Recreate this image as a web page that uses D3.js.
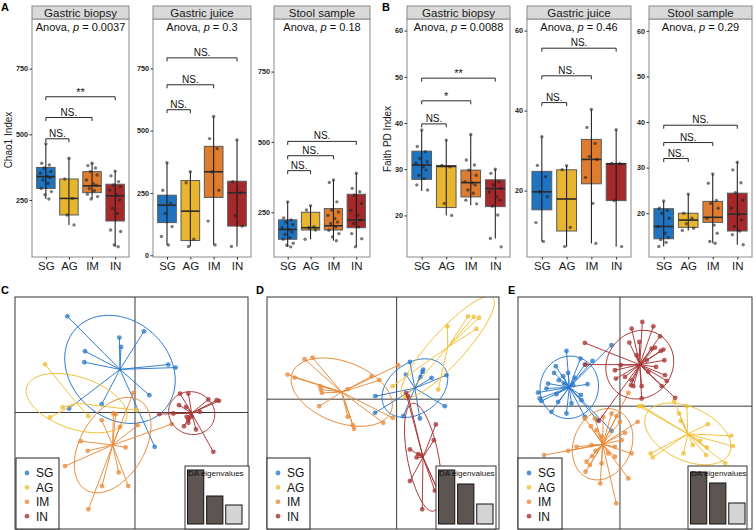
<!DOCTYPE html>
<html><head><meta charset="utf-8">
<script src="https://cdn.jsdelivr.net/npm/d3@7"></script>
<style>body{margin:0;background:#fff}svg{display:block;font-family:"Liberation Sans",Arial,Helvetica,sans-serif}</style>
</head><body><svg id="c" width="756" height="530"></svg>
<script>
// ---------------- data ----------------
const groups = ["SG","AG","IM","IN"];
const facetNames = ["Gastric biopsy","Gastric juice","Stool sample"];
const anovaPA = ["0.0037","0.3","0.18"];
const anovaPB = ["0.0088","0.46","0.29"];
const chaoTicks = [[250,500,750],[0,250,500,750],[250,500,750]];
const faithTicks = [[20,30,40,50,60],[20,40,60],[20,30,40,50,60]];
const chaoDomains = [[33,939],[-7,948],[91,937]];
const faithDomains = [[11,62.5],[3.4,62.9],[10.4,62.6]];

// box stats per group: [lower whisker, Q1, median, Q3, upper whisker]
const chaoBiopsyBox = [[254,294,339,374,464],[155,193,256,330,409],[254,278,304,358,391],[72,170,266,310,360]];
const chaoJuiceBox  = [[41,131,201,241,371],[35,59,177,300,335],[41,232,335,437,557],[35,117,251,297,463]];
const chaoStoolBox  = [[127,154,189,223,287],[154,187,195,250,273],[149,187,202,263,365],[127,195,223,314,389]];
const faithBiopsyBox = [[25.3,27.8,30.9,33.9,38.5],[20.0,21.7,30.6,30.8,36.3],[22.2,24.0,27.1,29.8,37.5],[15.0,21.9,25.8,27.7,30.0]];
const faithJuiceBox  = [[7.3,15.2,19.7,24.8,33.5],[6.0,9.9,17.9,25.2,26.2],[6.8,21.7,27.8,32.8,40.3],[6.0,17.5,26.7,26.8,35.2]];
const faithStoolBox  = [[12.7,14.4,17.1,21.0,22.7],[16.2,16.9,18.5,20.0,24.2],[13.4,18.0,19.1,22.6,28.6],[13.1,16.1,19.8,24.4,31.2]];

// sample points per group
const chaoBiopsyPts = [[464,390,383,372,358,352,340,335,326,313,294,282,270,254],[409,330,256,193,155],[390,381,372,358,345,326,312,306,294,285,272,263,254],[360,342,320,307,301,288,269,250,218,199,136,130,79,72]];
const chaoJuicePts  = [[371,261,208,168,115,75,41],[335,291,64,35],[557,468,428,335,261,137,41],[463,295,251,160,117,35]];
const chaoStoolPts  = [[287,230,223,215,206,195,189,180,172,160,154,140,133,127],[273,258,199,195,187,154],[365,356,287,258,251,239,228,215,210,198,186,174,162,149],[389,335,323,311,281,257,239,222,210,198,174,156,127]];
const faithBiopsyPts = [[38.5,34.9,33.8,32.3,31.6,31.3,30.5,29.8,28.7,28.0,26.6,25.5],[36.3,30.8,30.5,22.6,20.0],[37.5,32.0,30.9,29.8,28.7,27.3,27.0,26.6,25.5,24.8,23.3,22.5],[30.0,29.1,27.3,26.6,25.8,25.1,24.0,23.3,22.0,20.1,15.0,13.2]];
const faithJuicePts  = [[33.5,26.3,23.5,19.7,18.5,12.0,7.3],[26.2,25.2,10.8,6.0],[40.3,35.8,31.8,28.5,27.8,23.3,16.8,6.8],[35.2,26.8,26.7,17.5,6.0]];
const faithStoolPts  = [[22.7,21.1,20.6,20.0,18.9,17.1,15.6,14.7,14.2,13.6,12.7],[24.2,20.0,18.9,17.7,16.7,16.2],[28.6,26.6,22.8,22.2,21.1,18.9,17.4,15.6,13.8,13.4],[31.2,29.5,26.7,24.5,22.9,21.1,19.8,18.5,17.1,16.1,15.3,13.1]];

// significance brackets (SG vs AG, SG vs IM, SG vs IN)
const chaoSigLabels = [["NS.","NS.","**"],["NS.","NS.","NS."],["NS.","NS.","NS."]];
const chaoSigY = [[483,564,643],[584,684,792],[398,451,502]];
const faithSigLabels = [["NS.","*","**"],["NS.","NS.","NS."],["NS.","NS.","NS."]];
const faithSigY = [[39.8,44.8,49.7],[42,48.7,55.6],[32.0,35.5,39.3]];

// DAPC scatter coordinates (LD1, LD2)
const cSG = [[-20.3,28.9],[2.7,24.4],[-4.7,22.5],[-4.2,19.7],[-15.0,18.4],[-15.2,15.1],[10.0,14.4],[12.2,13.5],[4.3,5.2],[-10.0,2.5],[-19.8,1.2],[5.9,-10.3]];
const cAG = [[-27.0,14.5],[-21.7,1.5],[-25.5,-1.5],[-14.0,-1.1],[0.5,0.7]];
const cIM = [[-0.5,5.9],[-6.5,-0.3],[-5.8,-0.5],[-10.0,-2.3],[-4.5,-4.3],[0.8,-3.8],[11.0,-3.5],[-16.3,-8.6],[-14.2,-11.5],[-2.8,-10.5],[-21.0,-16.1],[-9.9,-22.1],[-4.9,-18.0],[-2.0,-22.1],[-14.0,-29.1]];
const cIN = [[13.5,5.7],[16.0,5.7],[22.0,3.9],[24.5,3.7],[25.2,3.5],[13.2,2.2],[15.3,1.7],[7.3,-0.5],[17.0,-1.3],[16.0,-2.1],[16.0,-3.1],[14.7,-4.1],[18.3,-5.1],[23.5,-11.8],[19.5,0.2],[15.5,-1.3],[11.5,-0.3]];
const dSG = [[4.0,11.2],[8.0,8.9],[7.8,8.2],[7.2,6.7],[2.8,7.4],[10.5,6.4],[15.0,7.2],[-6.4,0.9],[-6.5,-4.1],[2.0,-5.1],[7.0,-5.8],[14.5,-2.1]];
const dAG = [[21.5,24.9],[23.2,24.7],[24.8,24.5],[24.0,21.1],[15.3,21.9],[12.5,2.9],[-1.2,3.9],[2.8,0.9]];
const dIM = [[-27.7,12.0],[-25.3,12.5],[-32.8,7.4],[-30.7,6.5],[-23.0,3.9],[-22.5,1.9],[-22.8,2.9],[-14.7,3.0],[-7.5,6.9],[-5.2,5.7],[0.5,10.2],[-23.3,-2.1],[-14.7,-5.3],[-13.2,-7.8],[-12.8,-8.9],[-4.0,-7.1],[-1.2,-5.6]];
const dIN = [[2.8,1.9],[3.5,0.9],[11.8,-7.6],[11.2,-12.3],[4.0,-15.1],[6.5,-16.5],[6.0,-17.5],[7.5,-16.8],[4.0,-24.6],[11.5,-27.5],[13.0,-28.8],[13.5,-29.8],[7.7,-33.1]];
const eSG = [[-16.0,16.6],[-19.2,12.0],[-11.8,14.3],[-8.2,13.6],[-2.5,18.3],[-19.7,10.0],[-15.5,10.0],[-18.3,7.8],[-21.5,6.8],[-16.7,6.8],[-14.0,6.3],[-24.5,4.1],[-22.0,5.3],[-24.0,2.3],[-23.5,1.5],[-19.0,3.6],[-11.7,3.3],[-20.5,-1.7],[-16.0,-2.2],[-11.5,1.8],[-9.7,6.6],[-13.5,8.6],[-2.5,-7.4],[-10.5,12.5],[-17.0,9.0],[-10.5,-3.2],[-6.7,-4.2],[-14.5,0.8],[-18.5,1.3]];
const eAG = [[5.7,0.0],[6.7,0.0],[16.2,1.5],[20.0,0.0],[17.7,-2.2],[18.2,-4.4],[26.3,-5.4],[33.3,-8.9],[33.8,-12.0],[19.0,-14.2],[24.0,-10.4],[26.0,-12.4],[25.8,-14.7],[9.2,-14.2],[9.8,-15.4],[31.5,-17.2],[21.8,-11.7]];
const eIM = [[2.5,4.0],[-2.5,-2.2],[-1.0,-3.0],[1.5,-8.0],[-5.0,-3.2],[-7.5,-3.7],[-10.5,-3.7],[-8.7,-6.0],[-7.0,-7.2],[-5.5,-9.0],[0.5,-10.2],[-1.5,-12.2],[-22.7,-14.7],[-15.5,-13.4],[-13.0,-12.2],[-8.5,-11.7],[-7.3,-13.4],[-8.3,-15.0],[-10.0,-16.7],[-9.0,-17.7],[-10.3,-19.7],[-5.5,-17.2],[-5.9,-23.2],[-1.1,-29.2],[2.5,-21.7],[3.5,-14.2],[-1.5,-15.2],[-3.5,-14.2],[5.3,-4.7],[0.0,-4.7]];
const eIN = [[6.7,25.3],[10.0,24.0],[3.5,23.3],[12.0,21.0],[2.8,19.1],[5.8,19.3],[0.2,12.3],[-1.2,8.3],[3.3,6.3],[6.5,6.0],[6.5,2.3],[4.0,6.0],[9.5,17.3],[10.5,17.6],[12.2,16.6],[13.0,17.0],[13.3,13.8],[10.8,11.8],[13.5,9.3],[14.0,7.6],[12.5,6.0],[16.5,2.5],[8.0,13.8],[-10.5,19.0],[-10.3,12.5],[8.5,10.3],[5.0,15.3],[-1.5,10.8],[1.5,8.8],[3.5,7.8],[-6.3,-4.4]];
const eigC = [54,28,19];
const eigD = [54,40,20];
const eigE = [52,41,21];

// ---------------- style ----------------
const boxFill = ["#1f74c2","#e8b52e","#de7c2f","#a5292a"];
const dapcCol = ["#2a78cc","#f0bf35","#e98a3b","#a93434"];
const jit = [0.0,-0.18,0.15,-0.08,0.22,-0.24,0.06,0.18,-0.12,0.1,-0.2,0.24,-0.04,0.13,-0.22];

const svg = d3.select("#c");

function facet(x0, x1, yDom, ticks, title, pTxt, boxes, pts, sigLab, sigY) {
  const yTop = 19, yBot = 257;
  const g = svg.append("g");
  const x = d3.scalePoint().domain(groups).range([x0, x1]).padding(0.6);
  const step = x.step();
  const y = d3.scaleLinear().domain(yDom).range([yBot, yTop]);
  g.append("rect").attr("x", x0).attr("y", yTop).attr("width", x1 - x0).attr("height", yBot - yTop)
    .attr("fill", "#fff").attr("stroke", "#8a8a8a").attr("stroke-width", 1);
  g.append("rect").attr("x", x0).attr("y", 6).attr("width", x1 - x0).attr("height", 13)
    .attr("fill", "#d9d9d9").attr("stroke", "#8a8a8a").attr("stroke-width", 1);
  g.append("text").attr("x", (x0 + x1) / 2).attr("y", 16.6).attr("text-anchor", "middle")
    .attr("font-size", 11.5).attr("fill", "#1a1a1a").text(title);
  // axes
  const ya = g.append("g").attr("transform", `translate(${x0},0)`)
    .call(d3.axisLeft(y).tickValues(ticks).tickSize(2.5).tickPadding(1.5).tickFormat(d3.format("d")));
  ya.select(".domain").remove();
  ya.selectAll("line").attr("stroke", "#333");
  ya.selectAll("text").attr("font-size", 7.2).attr("font-weight", "bold").attr("fill", "#222");
  const xa = g.append("g").attr("transform", `translate(0,${yBot})`)
    .call(d3.axisBottom(x).tickSize(2.5).tickPadding(2));
  xa.select(".domain").remove();
  xa.selectAll("line").attr("stroke", "#333");
  xa.selectAll("text").attr("font-size", 11.5).attr("fill", "#1a1a1a");
  // boxes
  groups.forEach((grp, i) => {
    const s = boxes[i], cx = x(grp), w = step * 0.8;
    g.append("rect").attr("x", cx - w / 2).attr("y", y(s[3])).attr("width", w).attr("height", y(s[1]) - y(s[3]))
      .attr("fill", boxFill[i]).attr("stroke", "#5a5a5a").attr("stroke-width", 1);
    g.append("line").attr("x1", cx).attr("x2", cx).attr("y1", y(s[4])).attr("y2", y(s[0]))
      .attr("stroke", "#111").attr("stroke-width", 1);
    g.append("line").attr("x1", cx - w / 2).attr("x2", cx + w / 2).attr("y1", y(s[2])).attr("y2", y(s[2]))
      .attr("stroke", "#2b2b2b").attr("stroke-width", 1.6);
    pts[i].forEach((v, k) => {
      g.append("circle").attr("cx", cx + jit[k % jit.length] * step).attr("cy", y(v)).attr("r", 1.7)
        .attr("fill", "#222").attr("fill-opacity", 0.6);
    });
  });
  // anova label
  const t = g.append("text").attr("x", (x0 + x1) / 2).attr("y", 31).attr("text-anchor", "middle")
    .attr("font-size", 11).attr("fill", "#111");
  t.append("tspan").text("Anova, ");
  t.append("tspan").attr("font-style", "italic").text("p");
  t.append("tspan").text(" = " + pTxt);
  // brackets
  [1, 2, 3].forEach((j, k) => {
    const xa0 = x(groups[0]), xb = x(groups[j]), yy = y(sigY[k]);
    g.append("path").attr("d", `M${xa0},${yy + 3.5}V${yy}H${xb}V${yy + 3.5}`)
      .attr("fill", "none").attr("stroke", "#111").attr("stroke-width", 0.9);
    g.append("text").attr("x", (xa0 + xb) / 2).attr("y", sigLab[k] === "NS." ? yy - 2 : yy - 1)
      .attr("text-anchor", "middle").attr("font-size", sigLab[k] === "NS." ? 10 : 11).attr("fill", "#111")
      .text(sigLab[k]);
  });
}

const posA = [[32, 129], [153, 251], [274, 370]];
const posB = [[407, 510], [527, 631], [649, 752]];
const chaoBoxes = [chaoBiopsyBox, chaoJuiceBox, chaoStoolBox];
const chaoPts = [chaoBiopsyPts, chaoJuicePts, chaoStoolPts];
const faithBoxes = [faithBiopsyBox, faithJuiceBox, faithStoolBox];
const faithPts = [faithBiopsyPts, faithJuicePts, faithStoolPts];
for (let f = 0; f < 3; f++) {
  facet(posA[f][0], posA[f][1], chaoDomains[f], chaoTicks[f], facetNames[f], anovaPA[f], chaoBoxes[f], chaoPts[f], chaoSigLabels[f], chaoSigY[f]);
  facet(posB[f][0], posB[f][1], faithDomains[f], faithTicks[f], facetNames[f], anovaPB[f], faithBoxes[f], faithPts[f], faithSigLabels[f], faithSigY[f]);
}
svg.append("text").attr("transform", "translate(12,140) rotate(-90)").attr("text-anchor", "middle")
  .attr("font-size", 10).attr("fill", "#1a1a1a").text("Chao1 Index");
svg.append("text").attr("transform", "translate(390.5,139) rotate(-90)").attr("text-anchor", "middle")
  .attr("font-size", 10).attr("fill", "#1a1a1a").text("Faith PD Index");

// panel letters
[["A", 1, 11], ["B", 382, 11], ["C", 1, 294], ["D", 256, 294], ["E", 508, 294]].forEach(d => {
  svg.append("text").attr("x", d[1]).attr("y", d[2]).attr("font-size", 11).attr("font-weight", "bold").text(d[0]);
});

// ---------------- DAPC scatter ----------------
function ellipsePts(pts) {
  const n = pts.length;
  const mx = d3.mean(pts, p => p[0]), my = d3.mean(pts, p => p[1]);
  let sxx = 0, syy = 0, sxy = 0;
  pts.forEach(p => { const dx = p[0] - mx, dy = p[1] - my; sxx += dx * dx; syy += dy * dy; sxy += dx * dy; });
  sxx /= n; syy /= n; sxy /= n;
  const tr = sxx + syy, det = sxx * syy - sxy * sxy;
  const disc = Math.sqrt(Math.max(0, tr * tr / 4 - det));
  const l1 = tr / 2 + disc, l2 = Math.max(0, tr / 2 - disc);
  const th = Math.abs(sxy) < 1e-9 ? (sxx >= syy ? 0 : Math.PI / 2) : Math.atan2(l1 - sxx, sxy);
  const a = 1.5 * Math.sqrt(l1), b = 1.5 * Math.sqrt(l2);
  return d3.range(0, 101).map(k => {
    const t = k / 100 * 2 * Math.PI;
    return [mx + a * Math.cos(t) * Math.cos(th) - b * Math.sin(t) * Math.sin(th),
            my + a * Math.cos(t) * Math.sin(th) + b * Math.sin(t) * Math.cos(th)];
  });
}

function dapc(id, frame, xDom, yDom, sets, eig, legendBox, inset) {
  const [L, T, R, B] = frame;
  const x = d3.scaleLinear().domain(xDom).range([L, R]);
  const y = d3.scaleLinear().domain(yDom).range([B, T]);
  const g = svg.append("g");
  g.append("clipPath").attr("id", "clip" + id).append("rect").attr("x", L).attr("y", T).attr("width", R - L).attr("height", B - T);
  g.append("rect").attr("x", L).attr("y", T).attr("width", R - L).attr("height", B - T).attr("fill", "#fff");
  const p = g.append("g").attr("clip-path", `url(#clip${id})`);
  p.append("line").attr("x1", x(0)).attr("x2", x(0)).attr("y1", T).attr("y2", B).attr("stroke", "#3a3a3a").attr("stroke-width", 1);
  p.append("line").attr("x1", L).attr("x2", R).attr("y1", y(0)).attr("y2", y(0)).attr("stroke", "#3a3a3a").attr("stroke-width", 1);
  const line = d3.line().x(d => x(d[0])).y(d => y(d[1]));
  sets.forEach((pts, i) => {
    const mx = d3.mean(pts, q => q[0]), my = d3.mean(pts, q => q[1]);
    pts.forEach(q => {
      p.append("line").attr("x1", x(mx)).attr("y1", y(my)).attr("x2", x(q[0])).attr("y2", y(q[1]))
        .attr("stroke", dapcCol[i]).attr("stroke-width", 1).attr("stroke-opacity", 0.95);
    });
    p.append("path").attr("d", line(ellipsePts(pts))).attr("fill", "none").attr("stroke", dapcCol[i]).attr("stroke-width", 1);
    pts.forEach(q => {
      p.append("circle").attr("cx", x(q[0])).attr("cy", y(q[1])).attr("r", 2.4)
        .attr("fill", dapcCol[i]).attr("fill-opacity", 0.78);
    });
  });
  g.append("rect").attr("x", L).attr("y", T).attr("width", R - L).attr("height", B - T)
    .attr("fill", "none").attr("stroke", "#333").attr("stroke-width", 1);
  // legend
  const [lx0, ly0, lx1, ly1] = legendBox;
  g.append("rect").attr("x", lx0).attr("y", ly0).attr("width", lx1 - lx0).attr("height", ly1 - ly0)
    .attr("fill", "#fff").attr("stroke", "#222").attr("stroke-width", 1);
  groups.forEach((grp, i) => {
    const yy = ly0 + 15 + i * 14.4;
    g.append("circle").attr("cx", lx0 + 11).attr("cy", yy).attr("r", 2.4).attr("fill", dapcCol[i]).attr("fill-opacity", 0.8);
    g.append("text").attr("x", lx0 + 20).attr("y", yy + 4.3).attr("font-size", 12).attr("fill", "#111").text(grp);
  });
  // eigenvalues inset
  const [ix0, iy0, ix1, iy1] = inset;
  g.append("rect").attr("x", ix0).attr("y", iy0).attr("width", ix1 - ix0).attr("height", iy1 - iy0)
    .attr("fill", "#fff").attr("stroke", "#333").attr("stroke-width", 1);
  const bx = d3.scaleBand().domain(d3.range(eig.length)).range([ix0 + 2.5, ix0 + 57]).paddingInner(0.15);
  const by = d3.scaleLinear().domain([0, 54]).range([iy1 - 5, iy1 - 59]);
  eig.forEach((v, k) => {
    g.append("rect").attr("x", bx(k)).attr("y", by(v)).attr("width", bx.bandwidth()).attr("height", by(0) - by(v))
      .attr("fill", k < 2 ? "#5c5551" : "#d4d4d4").attr("stroke", "#111").attr("stroke-width", 1);
  });
  g.append("text").attr("x", ix0 + 3).attr("y", iy0 + 10).attr("font-size", 8).attr("fill", "#111").text("DA eigenvalues");
}

dapc("C", [15, 297, 248, 529], [-36.0, 33.9], [-35.0, 34.7], [cSG, cAG, cIM, cIN], eigC, [16, 458, 59, 529], [185, 466, 249, 529]);
dapc("D", [267, 297, 499, 529], [-39.0, 30.8], [-39.0, 30.7], [dSG, dAG, dIM, dIN], eigD, [267, 458, 310, 529], [436, 466, 496, 529]);
dapc("E", [518, 297, 752, 529], [-30.5, 39.5], [-36.9, 32.8], [eSG, eAG, eIM, eIN], eigE, [518, 458, 562, 529], [688, 466, 747, 529]);
</script></body></html>
